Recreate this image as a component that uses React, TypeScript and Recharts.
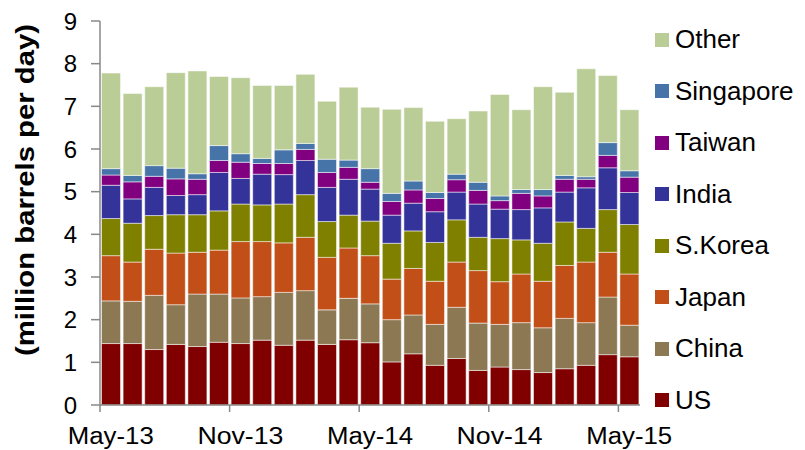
import { BarChart, Bar, XAxis, YAxis } from 'recharts';

const months = [
  'May-13', 'Jun-13', 'Jul-13', 'Aug-13', 'Sep-13', 'Oct-13', 'Nov-13', 'Dec-13',
  'Jan-14', 'Feb-14', 'Mar-14', 'Apr-14', 'May-14', 'Jun-14', 'Jul-14', 'Aug-14',
  'Sep-14', 'Oct-14', 'Nov-14', 'Dec-14', 'Jan-15', 'Feb-15', 'Mar-15', 'Apr-15', 'May-15',
];

// million barrels per day, by destination
const us = [1.44, 1.44, 1.30, 1.42, 1.37, 1.47, 1.44, 1.52, 1.40, 1.52, 1.42, 1.53, 1.46, 1.01, 1.20, 0.93, 1.09, 0.81, 0.89, 0.83, 0.76, 0.85, 0.93, 1.18, 1.13];
const china = [1.00, 0.99, 1.27, 0.93, 1.23, 1.13, 1.07, 1.02, 1.24, 1.16, 0.81, 0.97, 0.91, 0.99, 0.91, 0.96, 1.20, 1.11, 1.00, 1.10, 1.05, 1.18, 1.00, 1.35, 0.74];
const japan = [1.06, 0.92, 1.08, 1.21, 0.98, 1.03, 1.32, 1.29, 1.16, 1.25, 1.23, 1.18, 1.13, 0.95, 1.09, 1.01, 1.06, 1.23, 1.00, 1.14, 1.09, 1.24, 1.42, 1.05, 1.20];
const sKorea = [0.87, 0.91, 0.79, 0.90, 0.88, 0.92, 0.88, 0.86, 0.91, 1.00, 0.84, 0.77, 0.81, 0.84, 0.88, 0.91, 0.99, 0.78, 1.01, 0.80, 0.89, 1.02, 0.79, 1.00, 1.16];
const india = [0.78, 0.57, 0.66, 0.45, 0.47, 0.90, 0.60, 0.72, 0.69, 0.80, 0.80, 0.84, 0.75, 0.66, 0.65, 0.72, 0.65, 0.78, 0.69, 0.71, 0.83, 0.70, 0.95, 0.98, 0.75];
const taiwan = [0.24, 0.40, 0.26, 0.39, 0.36, 0.28, 0.38, 0.25, 0.26, 0.26, 0.35, 0.28, 0.16, 0.32, 0.31, 0.31, 0.29, 0.32, 0.20, 0.38, 0.28, 0.30, 0.20, 0.29, 0.36];
const singapore = [0.15, 0.15, 0.25, 0.25, 0.13, 0.35, 0.20, 0.12, 0.32, 0.14, 0.31, 0.17, 0.32, 0.19, 0.21, 0.14, 0.13, 0.19, 0.11, 0.09, 0.15, 0.09, 0.06, 0.30, 0.15];
const other = [2.24, 1.92, 1.85, 2.24, 2.41, 1.62, 1.78, 1.71, 1.51, 1.62, 1.36, 1.71, 1.44, 1.97, 1.72, 1.67, 1.30, 1.67, 2.38, 1.87, 2.41, 1.95, 2.53, 1.57, 1.43];

const yTicks = [0, 1, 2, 3, 4, 5, 6, 7, 8, 9];

const series = [
  { key: 'us', name: 'US', color: '#800000', values: us },
  { key: 'china', name: 'China', color: '#8c7853', values: china },
  { key: 'japan', name: 'Japan', color: '#c24f17', values: japan },
  { key: 'sKorea', name: 'S.Korea', color: '#808000', values: sKorea },
  { key: 'india', name: 'India', color: '#333399', values: india },
  { key: 'taiwan', name: 'Taiwan', color: '#800080', values: taiwan },
  { key: 'singapore', name: 'Singapore', color: '#4674a9', values: singapore },
  { key: 'other', name: 'Other', color: '#bbcd97', values: other },
];

const data = months.map((month, i) => {
  const row: Record<string, string | number> = { month };
  series.forEach((s) => { row[s.key] = s.values[i]; });
  return row;
});

const W = 805;
const H = 450;
const LEFT = 100;
const RIGHT = 165;
const BAND = (W - LEFT - RIGHT) / months.length;
const AXIS = '#888888';
const FONT = '"Liberation Sans", Arial, sans-serif';

// month labels sit under the bar, tick marks sit on the left edge of the bar
const MonthTick = ({ x, y, payload }: any) => (
  <g>
    <line x1={x - BAND / 2} x2={x - BAND / 2} y1={y - 7} y2={y} stroke={AXIS} strokeWidth={1.5} />
    <text
      x={x}
      y={y + 32}
      textAnchor="middle"
      fontSize={23}
      textLength={86}
      lengthAdjust="spacingAndGlyphs"
      fill="#000"
    >
      {payload.value}
    </text>
  </g>
);

const YTitle = ({ viewBox }: any) => {
  const cx = 25;
  const cy = viewBox.y + viewBox.height / 2 - 23;
  return (
    <text
      x={cx}
      y={cy}
      transform={`rotate(-90, ${cx}, ${cy})`}
      textAnchor="middle"
      dominantBaseline="central"
      fontSize={26}
      fontWeight="bold"
      textLength={332}
      lengthAdjust="spacingAndGlyphs"
      fill="#000"
    >
      (million barrels per day)
    </text>
  );
};

export default function App() {
  return (
    <div style={{ position: 'absolute', left: 0, top: 0, width: W, height: H, background: '#fff', fontFamily: FONT }}>
      <BarChart
        width={W}
        height={H}
        data={data}
        margin={{ top: 21, right: RIGHT, bottom: 0, left: 0 }}
        barCategoryGap="7%"
      >
        <XAxis
          dataKey="month"
          interval={5}
          height={45}
          tickLine={false}
          tickSize={7}
          tickMargin={0}
          axisLine={{ stroke: AXIS, strokeWidth: 1.5 }}
          tick={(p: any) => <MonthTick {...p} />}
        />
        <YAxis
          width={LEFT}
          domain={[0, 9]}
          ticks={yTicks}
          interval={0}
          tickSize={9}
          tickMargin={14}
          axisLine={{ stroke: AXIS, strokeWidth: 1.5 }}
          tickLine={{ stroke: AXIS, strokeWidth: 1.5 }}
          tick={{ fontSize: 24, fill: '#000' }}
          label={<YTitle />}
        />
        {series.map((s) => (
          <Bar
            key={s.key}
            dataKey={s.key}
            name={s.name}
            stackId="a"
            fill={s.color}
            stroke="#ffffff"
            strokeOpacity={0.5}
            strokeWidth={1}
            isAnimationActive={false}
          />
        ))}
      </BarChart>
      <div style={{ position: 'absolute', left: 655, top: 14 }}>
        {[...series].reverse().map((s) => (
          <div key={s.key} style={{ height: 51.5, display: 'flex', alignItems: 'center' }}>
            <span style={{ width: 14, height: 14, background: s.color, marginRight: 6 }} />
            <span style={{ fontSize: 26, color: '#000' }}>{s.name}</span>
          </div>
        ))}
      </div>
    </div>
  );
}
